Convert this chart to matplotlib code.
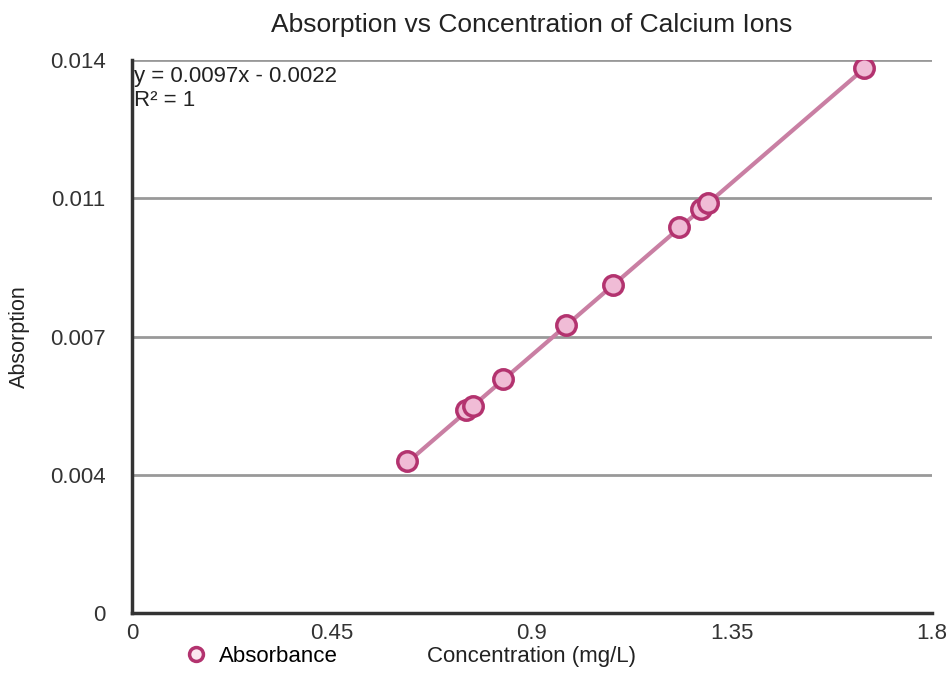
import matplotlib.pyplot as plt
import numpy as np
from matplotlib.lines import Line2D

plt.rcParams['font.family'] = ['Liberation Sans', 'DejaVu Sans']

# readings (concentration mg/L, absorption)
concentration = [0.619, 0.752, 0.767, 0.835, 0.976, 1.082, 1.232, 1.281, 1.297, 1.647]
absorption = [0.00386, 0.00515, 0.00525, 0.00593, 0.00729, 0.0083, 0.00976, 0.01022, 0.01037, 0.0138]

slope = 0.0097
intercept = -0.0022

x_ticks = [0, 0.45, 0.9, 1.35, 1.8]
x_labels = ["0", "0.45", "0.9", "1.35", "1.8"]
y_ticks = [0, 0.0035, 0.007, 0.0105, 0.014]
y_labels = ["0", "0.004", "0.007", "0.011", "0.014"]

fig = plt.figure(figsize=(9.49, 6.9), dpi=100)
ax = fig.add_axes([0.139, 0.1116, 0.843, 0.8014])

# trendline over the data range
xs = np.array([min(concentration), max(concentration)])
ax.plot(xs, slope * xs + intercept, color="#c97fa3", lw=3, zorder=2)

ax.plot(concentration, absorption, "o", ms=14, mfc="#f0bcd6", mec="#b3336f",
        mew=2.5, zorder=3)

ax.set_xlim(0, 1.8)
ax.set_ylim(0, 0.014)
ax.set_xticks(x_ticks)
ax.set_xticklabels(x_labels)
ax.set_yticks(y_ticks)
ax.set_yticklabels(y_labels)
ax.tick_params(length=0, labelsize=16, colors="#333333")
ax.tick_params(axis="y", pad=19)
ax.tick_params(axis="x", pad=7)
ax.yaxis.grid(True, color="#999999", lw=2)
ax.set_axisbelow(True)
for s in ["top", "right"]:
    ax.spines[s].set_visible(False)
for s in ["left", "bottom"]:
    ax.spines[s].set_color("#333333")
    ax.spines[s].set_linewidth(2.5)

ax.set_title("Absorption vs Concentration of Calcium Ions", fontsize=19, pad=20, color="#222222")
ax.set_ylabel("Absorption", fontsize=15.5, color="#222222", va="center")
ax.yaxis.set_label_coords(-0.14, 0.5)
ax.set_xlabel("Concentration (mg/L)", fontsize=16, color="#222222", va="center")
ax.xaxis.set_label_coords(0.5, -0.078)

ax.text(0.003, 0.99, "y = 0.0097x - 0.0022\nR² = 1", transform=ax.transAxes,
        va="top", ha="left", fontsize=16, linespacing=1.2, color="#222222")

handle = Line2D([], [], marker="o", ls="", ms=10, mfc="#fbe6f0", mec="#b3336f", mew=2.5)
fig.legend([handle], ["Absorbance"], loc="center left", bbox_to_anchor=(0.174, 0.049),
           frameon=False, fontsize=16, handlelength=1, handletextpad=0.5)

fig.savefig("out.png", dpi=100)
